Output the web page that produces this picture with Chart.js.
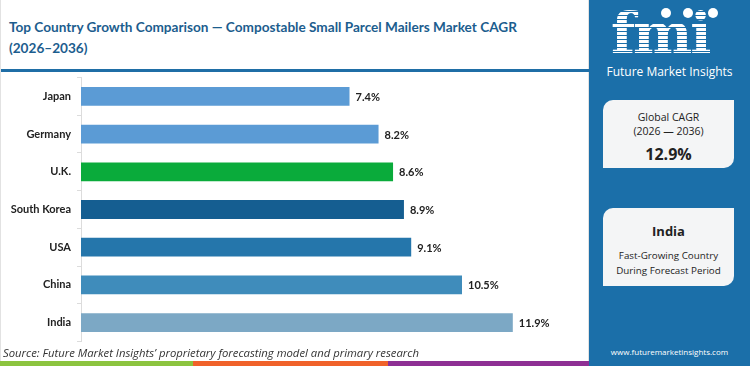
<!DOCTYPE html>
<html>
<head>
<meta charset="utf-8">
<script src="https://cdn.jsdelivr.net/npm/chart.js@4/dist/chart.umd.min.js"></script>
<style>
  body { margin: 0; width: 750px; height: 366px; overflow: hidden; background: #fff; font-family: "Open Sans", sans-serif; position: relative; }
  #left { position: absolute; left: 0; top: 0; width: 589px; height: 366px; border-left: 1px solid #e2e2e2; border-right: 1px solid #e2e2e2; box-sizing: border-box; }
  #title { position: absolute; left: 8px; top: 17px; white-space: nowrap; font: bold 13.6px Lato, sans-serif; color: #1c5d8e; line-height: 21px; }
  #rule { position: absolute; left: 0; top: 69px; width: 589px; height: 3px; background: #1f6ea6; }
  #chartBox { position: absolute; left: 0; top: 65px; width: 588px; height: 289px; }
  #source { position: absolute; left: 2px; top: 345px; font: italic 11.3px "Open Sans", sans-serif; color: #333; }
  .stripe { position: absolute; top: 361px; height: 5px; }
  #right { position: absolute; left: 589px; top: 0; width: 161px; height: 366px; background: #1b6fa9; color: #fff; }
  #logo { position: absolute; left: 22px; top: 0; width: 120px; height: 62px; }
  #logo .fmi { position: absolute; left: 0; top: 0; font: bold 56px "DejaVu Serif", serif; letter-spacing: -2px; color: #fff; line-height: 66px;
     -webkit-mask-image: repeating-linear-gradient(to bottom, #000 0 3px, transparent 3px 4px); mask-image: repeating-linear-gradient(to bottom, #000 0 3px, transparent 3px 4px); }
  .dot { position: absolute; width: 10px; height: 10px; border-radius: 50%; background: #fff; top: 8px; }
  #brand { position: absolute; left: 0; width: 161px; top: 63px; text-align: center; font: 12px "Open Sans", sans-serif; color: #fff; }
  .card { position: absolute; left: 14px; width: 131px; background: #f4f5f6; color: #222; text-align: center; border-radius: 10px 0 10px 0; }
  #card1 { top: 100px; height: 68px; }
  #card2 { top: 208px; height: 78px; }
  #url { position: absolute; left: 0; width: 161px; top: 346px; text-align: center; font: 8px "Open Sans", sans-serif; color: #fff; }
</style>
</head>
<body>
<div id="left">
  <div id="title">Top Country Growth Comparison — Compostable Small Parcel Mailers Market CAGR<br>(2026–2036)</div>
  <div id="rule"></div>
  <div id="chartBox"><canvas id="plot_cagr"></canvas></div>
  <div id="source">Source: Future Market Insights’ proprietary forecasting model and primary research</div>
</div>
<div class="stripe" style="left:0;width:193px;background:#8cc43f"></div>
<div class="stripe" style="left:193px;width:195px;background:#f0622a"></div>
<div class="stripe" style="left:388px;width:201px;background:#8e2f94"></div>
<div id="right">
  <div id="logo">
    <div class="fmi">fmi</div>
    <div class="dot" style="left:50px"></div>
    <div class="dot" style="left:72px"></div>
    <div class="dot" style="left:97px"></div>
  </div>
  <div id="brand">Future Market Insights</div>
  <div class="card" id="card1">
    <div style="font-size:10.5px;margin-top:10px;line-height:14px">Global CAGR<br>(2026 — 2036)</div>
    <div style="font-weight:bold;font-size:16px;margin-top:5px">12.9%</div>
  </div>
  <div class="card" id="card2">
    <div style="font-weight:bold;font-size:13px;margin-top:14px">India</div>
    <div style="font-size:9.8px;margin-top:8px;line-height:15px">Fast-Growing Country<br>During Forecast Period</div>
  </div>
  <div id="url">www.futuremarketinsights.com</div>
</div>
<script>
const countries = ["Japan", "Germany", "U.K.", "South Korea", "USA", "China", "India"];
const cagrValues = [7.4, 8.2, 8.6, 8.9, 9.1, 10.5, 11.9];
const barColors = ['#5b9bd5', '#5b9bd5', '#0aab3b', '#155e91', '#2576ab', '#3f8cbb', '#7ca8c5'];

// value labels drawn just past the end of each bar
const valueLabels = {
    id: 'valueLabels',
    afterDatasetsDraw(chart) {
        let ctx = chart.ctx;
        let meta = chart.getDatasetMeta(0);
        ctx.save();
        ctx.font = 'bold 11px Lato, sans-serif';
        ctx.fillStyle = '#222';
        ctx.textBaseline = 'middle';
        meta.data.forEach(function(bar, i) {
            ctx.fillText(cagrValues[i].toFixed(1) + '%', bar.x + 6, bar.y + 1);
        });
        ctx.restore();
    }
};

window.onload = function() {
    let ctx = document.getElementById('plot_cagr').getContext('2d');
    new Chart(ctx, {
        type: 'bar',
        data: {
            labels: countries,
            datasets: [{
                data: cagrValues,
                backgroundColor: barColors,
                barPercentage: 0.5,
                categoryPercentage: 1
            }]
        },
        options: {
            indexAxis: 'y',
            responsive: true,
            maintainAspectRatio: false,
            animation: false,
            layout: { padding: 0 },
            plugins: { legend: { display: false }, tooltip: { enabled: false } },
            scales: {
                x: { display: false, min: 0, max: 14 },
                y: {
                    afterFit: function(scale) { scale.width = 80; },
                    grid: { drawOnChartArea: false, tickLength: 4, color: '#dcdcdc', offset: true },
                    border: { color: '#dcdcdc' },
                    ticks: { padding: 6, color: '#222', font: { family: 'Lato', weight: 'bold', size: 11 } }
                }
            }
        },
        plugins: [valueLabels]
    });
}
</script>
</body>
</html>
